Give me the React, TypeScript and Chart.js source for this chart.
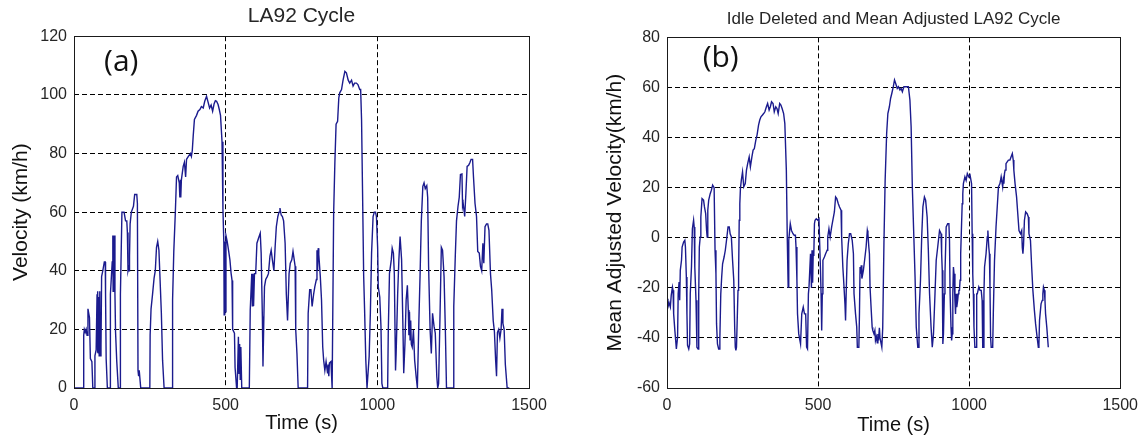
import React, { useEffect, useRef } from "react";
import { Chart, registerables } from "chart.js";

Chart.register(...registerables);

// ---------- data ----------
const timeTicks = [0, 500, 1000, 1500];
const velocityTicks = [0, 20, 40, 60, 80, 100, 120];
const adjustedTicks = [-60, -40, -20, 0, 20, 40, 60, 80];

// LA92 cycle: [time (s), velocity (km/h)]
const la92Trace: [number, number][] = [
  [0,0],[31,0],[32,18],[34,20],[37,19],[40,20],[43,18],[46,27],[51,24],[54,10],[59,9],[62,0],[67,0],[69,11],[73,13],[76,32],[77,12],[79,33],[80,12],[82,31],[83,11],[85,33],[86,11],[89,14],[91,38],[95,40],[100,43],[103,43],[104,32],[106,10],[110,0],[119,0],[120,32],[126,43],[128,52],[129,33],[130,52],[131,35],[132,52],[135,32],[137,19],[141,9],[146,0],[152,0],[153,32],[158,60],[165,60],[170,57],[174,57],[176,53],[178,40],[180,41],[182,40],[183,45],[185,56],[189,60],[196,62],[200,66],[207,66],[209,63],[211,6],[213,4],[215,6],[220,0],[250,0],[251,18],[254,27],[259,32],[264,37.5],[268,40],[272,48],[276,50],[280,47],[283,39],[288,25.5],[292,9.5],[297,0],[324,0],[325,30],[329,46.6],[334,59.7],[338,72],[342,72.5],[347,70],[349,65],[351,71],[352,65],[354,71],[360,75.6],[364,77],[368,72],[371,78],[377,79],[384,80],[387,79],[390,81],[393,86],[397,91.6],[404,93],[409,94.4],[415,95],[420,96],[426,95.5],[431,97.8],[437,99.5],[442,97.5],[447,95.5],[452,96.5],[457,94.4],[462,97],[466,98],[470,97.8],[475,96.7],[479,95],[483,93],[488,84],[491,61],[494,49.4],[495,25],[497,50],[499,26],[501,52],[505,50],[510,46.6],[514,43.7],[518,39],[521,36.7],[523,20],[529,18.7],[531,7],[536,0],[538,0],[542,17.5],[544,5],[546,15],[548,3],[550,14],[553,0],[578,0],[581,26.6],[586,39],[588,28],[590,39],[592,28],[595,39],[599,39],[603,49.4],[608,51],[614,52.8],[617,46],[621,24.4],[623,7.3],[626,24.4],[628,34.6],[632,37],[637,38],[641,39],[646,45],[650,47],[654,43.7],[659,40],[663,48],[667,55],[672,58.5],[676,60],[679,61.4],[683,59],[687,58.5],[691,57],[696,49.4],[700,32],[704,23],[709,39],[713,42.6],[718,43.7],[722,46.6],[726,43.7],[729,41.5],[731,19.8],[735,11.8],[739,0],[770,0],[772,25.5],[777,33.5],[781,33.5],[785,27.8],[790,32],[794,34.6],[799,37],[801,47],[803,40],[805,47.7],[807,45.5],[812,38],[816,30],[820,14],[823,9.5],[827,6],[831,9],[836,5],[838,8],[840,4],[842,8.5],[847,9],[851,0],[853,0],[856,59.7],[860,76.8],[864,90],[869,91],[873,99],[876,100.7],[882,101.8],[887,105],[893,108],[898,107.5],[904,105],[909,104],[915,105],[920,103],[925,104],[931,104],[936,103.5],[942,101.8],[945,101.8],[948,91.5],[951,68.8],[955,38],[958,26.6],[962,9.5],[966,0],[969,0],[973,10.7],[977,25.5],[981,46],[986,58.5],[990,60],[994,60],[997,58.5],[1001,48],[1003,34.6],[1008,31],[1012,21],[1015,1.6],[1018,0],[1034,0],[1036,18.7],[1040,39],[1046,43.7],[1049,47.7],[1053,46],[1056,39],[1060,6],[1062,11.8],[1067,32],[1071,43.7],[1075,51.7],[1080,43.7],[1084,23],[1087,5],[1091,15],[1095,30],[1099,35],[1102,26.6],[1104,18],[1106,26],[1108,16.4],[1110,23],[1112,15],[1115,14],[1119,19.8],[1123,9.5],[1128,3.9],[1132,0],[1134,0],[1137,23],[1141,39],[1145,57],[1150,68.8],[1154,70],[1158,68],[1163,69],[1166,65],[1169,41.5],[1174,19.8],[1178,11.8],[1182,25.5],[1187,21],[1191,18.7],[1196,3.9],[1199,0],[1202,1.5],[1207,26.6],[1211,48],[1215,47],[1220,38],[1224,21],[1228,0],[1250,0],[1252,27.8],[1257,45],[1261,57],[1266,62],[1270,65],[1274,72.8],[1279,73],[1281,62],[1283,63],[1288,58.5],[1292,66.5],[1296,75.6],[1301,76],[1305,76.8],[1309,78],[1314,78],[1317,72],[1322,63],[1327,58.5],[1331,46.6],[1336,46],[1340,41.5],[1344,40],[1348,49.4],[1351,42.6],[1355,55],[1360,56],[1364,56],[1368,53.8],[1373,39],[1377,33.5],[1382,23],[1386,19.2],[1390,9.5],[1393,4],[1396,19],[1400,20],[1404,17],[1408,20],[1411,27],[1414,22],[1418,20],[1422,8],[1428,0],[1435,0]
];

// Idle deleted, mean adjusted LA92: [time (s), adjusted velocity (km/h)]
const adjustedTrace: [number, number][] = [
  [0,-24.4],[3,-27.7],[7,-26],[11,-27.7],[14,-23],[18,-19.7],[20,-21],[22,-30.4],[26,-37],[31,-44.4],[35,-39.7],[37,-22.4],[40,-17.7],[42,-25],[44,-13],[48,-9],[50,-3.7],[55,-1.7],[59,-1],[61,-3.7],[64,-15.7],[66,-30.4],[68,-43],[72,-44.4],[75,-42.4],[77,-22.4],[81,-11.7],[84,3.6],[88,7],[90,4.3],[92,-11.7],[96,-25],[99,-43.7],[103,-44.4],[105,-22.4],[107,-3.7],[110,0.3],[112,8.3],[116,15.6],[121,15],[124,12.3],[128,9.6],[131,2.9],[133,0.3],[135,11],[138,15],[143,17.6],[147,19],[151,21],[156,20],[159,-5],[162,-14.4],[164,-34.4],[167,-42.4],[171,-44.4],[173,-44.4],[175,-39.7],[178,-22.4],[181,-15.7],[184,-10.4],[189,-7.7],[193,-5],[197,-1],[202,4.3],[206,4.3],[209,1.6],[213,0.3],[217,-9],[221,-17],[224,-35.7],[226,-43.7],[228,-45],[230,-43.7],[235,-21],[237,-14.4],[239,7],[241,13.6],[243,19.6],[246,23],[250,26.3],[254,20.3],[259,21.6],[263,27],[267,29.6],[272,32.3],[276,28.3],[281,32.3],[285,35],[289,35.6],[294,39],[298,41],[303,45],[307,47],[311,48.3],[316,49],[320,49.6],[324,50.3],[329,52.3],[333,53.6],[338,51],[342,52.3],[346,54.3],[351,53.6],[355,50.3],[360,52.3],[364,51.6],[368,49.6],[373,53.6],[377,53],[381,51.6],[386,49.6],[390,45.6],[395,27],[398,0.3],[401,-19.7],[403,-1],[408,5.6],[412,2.9],[417,1.6],[421,1],[425,1],[427,-3.7],[430,-17],[432,-30.4],[436,-38.4],[442,-42.4],[446,-30.4],[451,-27.7],[455,-30.4],[459,-30.4],[462,-43.7],[465,-44.4],[468,-22.4],[470,-19.7],[473,-19.7],[475,-6.4],[478,-20],[480,-5],[482,-18],[484,-6],[486,-6.4],[488,5.6],[490,7],[494,7.6],[499,7],[503,7.6],[505,-1],[508,-13],[510,-22.4],[512,-37],[514,-22.4],[516,-9],[521,-7.7],[525,-6.4],[530,-5],[532,0.3],[536,3.6],[540,0.3],[545,4.3],[549,7],[554,10.3],[558,16.3],[562,15.6],[567,13.6],[571,12.3],[576,11],[578,0.3],[582,-11.7],[584,-15.7],[589,-26.4],[591,-33],[593,-22.4],[596,-9],[600,-2.4],[604,1.6],[608,1.6],[613,-1],[617,-6.4],[619,-22.4],[624,-30.4],[628,-35.7],[630,-43.7],[635,-43.7],[637,-30.4],[639,-11.7],[641,-14.4],[643,-11],[645,-16.3],[650,-13],[654,-9],[659,-3.7],[663,2.9],[665,1.6],[668,-3.7],[670,-6.4],[672,-19.7],[676,-29],[679,-35.7],[681,-37],[685,-38.4],[688,-37],[690,-41],[693,-39.5],[696,-42],[698,-38.4],[700,-41],[703,-36],[705,-40],[707,-40],[711,-43.7],[714,-36],[718,-2.4],[722,23],[727,41.6],[731,49.6],[736,52.3],[740,55.6],[744,57.6],[749,60.3],[753,63],[757,61.6],[762,59.6],[766,60.3],[771,59],[775,59.6],[779,58.3],[784,60.3],[788,60.3],[795,60.3],[799,60.3],[804,55],[808,44.3],[812,20.3],[817,0.3],[821,-15.7],[825,-35.7],[830,-43.7],[832,-43.7],[834,-30.4],[839,-17],[843,0.3],[847,12.3],[852,16.3],[856,15],[861,8.3],[865,-5],[869,-22.4],[874,-35.7],[878,-43.7],[882,-38.4],[887,-22.4],[891,-9],[896,-3.7],[902,2.9],[907,1.6],[909,-6.4],[911,-13],[913,-42.4],[915,-38.4],[918,-22.4],[920,-14.4],[924,4.3],[929,5.6],[933,5.6],[935,-1],[937,-22.4],[940,-35.7],[942,-41],[944,-38.4],[946,-22.4],[948,-11.7],[950,-14.4],[953,-25],[955,-30.4],[957,-22.4],[959,-27.7],[962,-25],[964,-22.4],[966,-21],[968,-21],[970,-17],[972,-6.4],[975,5.6],[977,13.6],[979,17.6],[981,21.6],[986,24.3],[990,22.9],[994,25.6],[999,24.3],[1003,25],[1008,21.6],[1010,1.6],[1012,-14.4],[1014,-22.4],[1016,-35.7],[1019,-43.7],[1023,-43.7],[1025,-22.4],[1027,-22.4],[1032,-19.7],[1036,-21],[1040,-21],[1043,-25],[1045,-43.7],[1047,-43.7],[1049,-22.4],[1051,-11.7],[1056,-6.4],[1060,0.3],[1062,2.9],[1065,-3.7],[1067,-6.4],[1069,-19.7],[1071,-39.7],[1073,-43.7],[1078,-43.7],[1080,-30.4],[1084,-9],[1089,4.3],[1093,12.3],[1097,20.3],[1102,21.6],[1106,24.3],[1111,20.3],[1113,23],[1115,21.6],[1117,25.6],[1119,27],[1122,29.6],[1126,30.3],[1130,31],[1135,31],[1139,32.3],[1143,33.6],[1146,31],[1148,27],[1152,21.6],[1157,16.3],[1161,9.6],[1165,2.9],[1170,1.6],[1174,2.9],[1176,-4],[1178,-6.4],[1180,-3],[1183,7],[1187,10.3],[1192,9.6],[1196,8.3],[1198,1.6],[1203,-1],[1207,-11.7],[1211,-21],[1216,-29],[1220,-34.4],[1225,-39.7],[1229,-43.7],[1231,-42.4],[1233,-33],[1238,-26.4],[1242,-25],[1244,-22.4],[1246,-19.7],[1249,-21],[1251,-25],[1253,-30.4],[1257,-35.7],[1262,-43.7]
];

// ---------- styling ----------
const SANS = '"Liberation Sans", Arial, Helvetica, sans-serif';
const LINE_COLOR = "#1b1b8e";
const TEXT_COLOR = "#262626";

const framePlugin = {
  id: "frame",
  afterDraw(chart: any, _args: any, opts: any) {
    const { ctx, chartArea: a } = chart;
    ctx.save();
    ctx.strokeStyle = "#1a1a1a";
    ctx.lineWidth = 1;
    ctx.setLineDash([]);
    const l = Math.round(a.left) + 0.5;
    const t = Math.round(a.top) + 0.5;
    const r = Math.round(a.right) + 0.5;
    const b = Math.round(a.bottom) + 0.5;
    ctx.strokeRect(l, t, r - l, b - t);
    if (opts && opts.text) {
      ctx.font = opts.font;
      ctx.fillStyle = "#111";
      ctx.textAlign = "left";
      ctx.textBaseline = "middle";
      ctx.fillText(
        opts.text,
        chart.scales.x.getPixelForValue(opts.x),
        chart.scales.y.getPixelForValue(opts.y)
      );
    }
    ctx.restore();
  },
};

type PanelSpec = {
  width: number;
  left: number;
  trace: [number, number][];
  yTicks: number[];
  title: string;
  titleSize: number;
  titlePad: { top: number; bottom: number };
  yTitle: string;
  yTitleSize: number;
  yTitlePad: number;
  yAxisWidth: number;
  padRight: number;
  xTitlePadBottom: number;
  tag: string;
  tagX: number;
  tagY: number;
};

function Panel(p: PanelSpec) {
  const ref = useRef<HTMLCanvasElement | null>(null);
  useEffect(() => {
    if (!ref.current) return;
    const yMin = p.yTicks[0];
    const yMax = p.yTicks[p.yTicks.length - 1];
    const xMin = timeTicks[0];
    const xMax = timeTicks[timeTicks.length - 1];
    const edgeColor = (lo: number, hi: number) => (c: any) =>
      c.tick && (c.tick.value === lo || c.tick.value === hi) ? "rgba(0,0,0,0)" : "#000";
    const chart = new Chart(ref.current, {
      type: "line",
      data: {
        datasets: [
          {
            data: p.trace.map(([x, y]) => ({ x, y })),
            borderColor: LINE_COLOR,
            borderWidth: 1.4,
            pointRadius: 0,
            tension: 0,
            fill: false,
          },
        ],
      },
      options: {
        responsive: false,
        animation: false,
        devicePixelRatio: 1,
        layout: { padding: { left: 0, right: p.padRight, top: 0, bottom: 0 } },
        plugins: {
          legend: { display: false },
          tooltip: { enabled: false },
          title: {
            display: true,
            text: p.title,
            fullSize: false,
            color: TEXT_COLOR,
            font: { family: SANS, size: p.titleSize, weight: "normal" },
            padding: p.titlePad,
          },
          frame: { text: p.tag, x: p.tagX, y: p.tagY, font: '30px "Open Sans", "Noto Sans", sans-serif' },
        } as any,
        scales: {
          x: {
            type: "linear",
            min: xMin,
            max: xMax,
            afterBuildTicks: (s: any) => {
              s.ticks = timeTicks.map((v) => ({ value: v }));
            },
            afterFit: (s: any) => {
              s.height = 52;
            },
            grid: { color: edgeColor(xMin, xMax), lineWidth: 1, drawTicks: false },
            border: { display: false, dash: [5, 3] },
            ticks: {
              padding: 8,
              color: TEXT_COLOR,
              font: { family: SANS, size: 16 },
              maxRotation: 0,
              callback: (v: any) => String(v),
            },
            title: {
              display: true,
              text: "Time (s)",
              color: "#111",
              font: { family: SANS, size: 20 },
              padding: { top: 0, bottom: p.xTitlePadBottom },
            },
          },
          y: {
            type: "linear",
            min: yMin,
            max: yMax,
            afterBuildTicks: (s: any) => {
              s.ticks = p.yTicks.map((v) => ({ value: v }));
            },
            afterFit: (s: any) => {
              s.width = p.yAxisWidth;
            },
            grid: { color: edgeColor(yMin, yMax), lineWidth: 1, drawTicks: false },
            border: { display: false, dash: [5, 3] },
            ticks: {
              padding: 7,
              color: TEXT_COLOR,
              font: { family: SANS, size: 16 },
              callback: (v: any) => String(v),
            },
            title: {
              display: true,
              text: p.yTitle,
              color: "#111",
              font: { family: SANS, size: p.yTitleSize },
              padding: { top: p.yTitlePad, bottom: 0 },
            },
          },
        },
      } as any,
      plugins: [framePlugin as any],
    });
    return () => chart.destroy();
  }, []);
  return (
    <canvas
      ref={ref}
      width={p.width}
      height={440}
      style={{ position: "absolute", left: p.left, top: 0, width: p.width, height: 440 }}
    />
  );
}

export default function App() {
  return (
    <div
      style={{
        position: "absolute",
        left: 0,
        top: 0,
        width: 1146,
        height: 440,
        background: "#fff",
        overflow: "hidden",
      }}
    >
      <Panel
        width={570}
        left={0}
        trace={la92Trace}
        yTicks={velocityTicks}
        title="LA92 Cycle"
        titleSize={21}
        titlePad={{ top: 4, bottom: 7 }}
        yTitle="Velocity (km/h)"
        yTitleSize={21}
        yTitlePad={9}
        yAxisWidth={74}
        padRight={41}
        xTitlePadBottom={5}
        tag="(a)"
        tagX={99}
        tagY={111}
      />
      <Panel
        width={576}
        left={570}
        trace={adjustedTrace}
        yTicks={adjustedTicks}
        title="Idle Deleted and Mean Adjusted LA92 Cycle"
        titleSize={17}
        titlePad={{ top: 9, bottom: 8 }}
        yTitle="Mean Adjusted Velocity(km/h)"
        yTitleSize={21}
        yTitlePad={33}
        yAxisWidth={97}
        padRight={23}
        xTitlePadBottom={3}
        tag="(b)"
        tagX={118}
        tagY={71.6}
      />
    </div>
  );
}
